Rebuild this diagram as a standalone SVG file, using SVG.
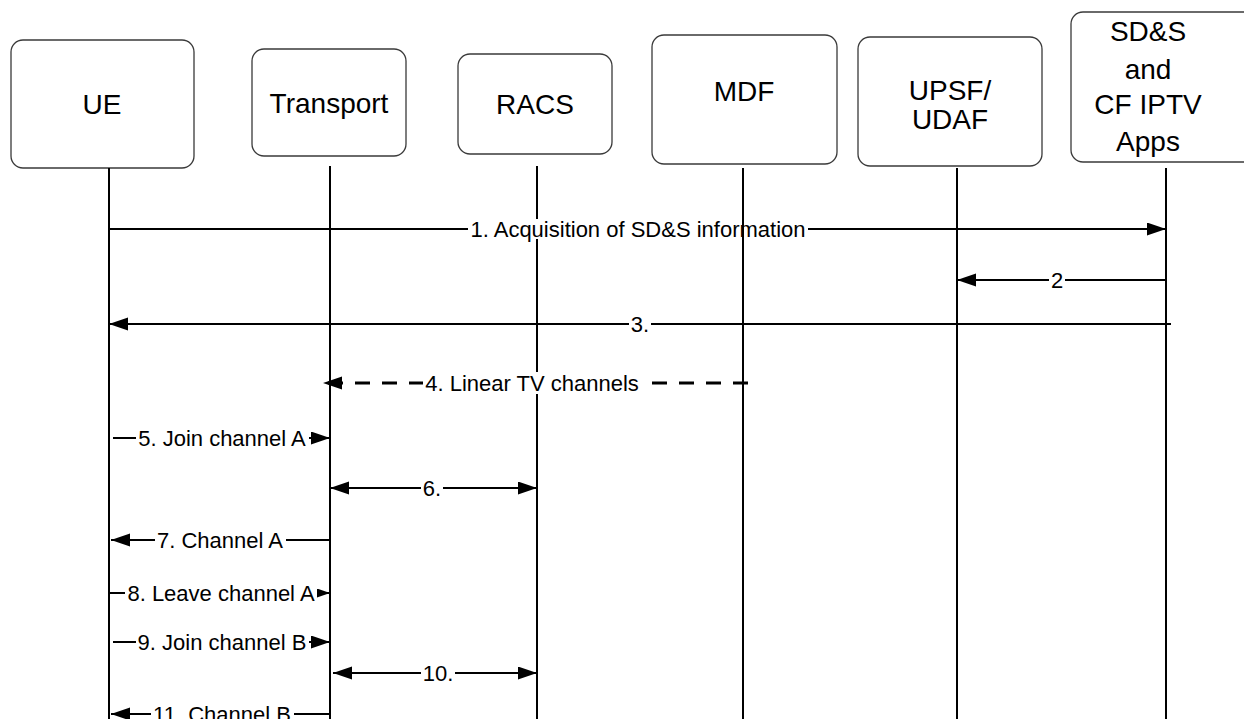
<svg xmlns="http://www.w3.org/2000/svg" width="1244" height="719" viewBox="0 0 1244 719">
<style>
.box{fill:#fff;stroke:#3a3a3a;stroke-width:1.3}
.bt{font-family:"Liberation Sans",Arial,sans-serif;font-size:28px;fill:#000;text-anchor:middle}
.life{stroke:#000;stroke-width:2;fill:none}
.msg{stroke:#000;stroke-width:2;fill:none;marker-end:url(#ah)}
.sm{marker-end:url(#ahs)}
.bi{marker-start:url(#ah)}
.dash{stroke-dasharray:15 12;stroke-width:3}
.lb{fill:#fff;stroke:none}
.lt{font-family:"Liberation Sans",Arial,sans-serif;font-size:22px;fill:#000;text-anchor:middle}
</style>
<defs>
<marker id="ah" markerUnits="userSpaceOnUse" markerWidth="20" markerHeight="14" refX="19" refY="6.5" orient="auto-start-reverse"><path d="M0,0 L19,6.5 L0,13 z" fill="#000"/></marker>
<marker id="ahs" markerUnits="userSpaceOnUse" markerWidth="14" markerHeight="10" refX="13" refY="4.5" orient="auto"><path d="M0,0 L13,4.5 L0,9 z" fill="#000"/></marker>
</defs>
<rect width="1244" height="719" fill="#fff"/>
<g id="ue">
<rect class="box" x="11" y="40" width="183" height="128" rx="12"/>
<text class="bt" x="102" y="114">UE</text>
<line class="life" x1="109" y1="168" x2="109" y2="719"/>
</g>
<g id="transport">
<rect class="box" x="252" y="49" width="154" height="107" rx="12"/>
<text class="bt" x="329" y="113">Transport</text>
<line class="life" x1="330" y1="166" x2="330" y2="719"/>
</g>
<g id="racs">
<rect class="box" x="458" y="54" width="154" height="100" rx="12"/>
<text class="bt" x="535" y="114">RACS</text>
<line class="life" x1="537" y1="166" x2="537" y2="719"/>
</g>
<g id="upsf">
<rect class="box" x="858" y="37" width="184" height="129" rx="12"/>
<text class="bt" x="950" y="100">UPSF/</text>
<text class="bt" x="950" y="129">UDAF</text>
<line class="life" x1="957" y1="168" x2="957" y2="719"/>
</g>
<g id="sds">
<rect class="box" x="1071" y="12" width="190" height="150" rx="12"/>
<text class="bt" x="1148" y="41">SD&amp;S</text>
<text class="bt" x="1148" y="79">and</text>
<text class="bt" x="1148" y="114">CF IPTV</text>
<text class="bt" x="1148" y="151">Apps</text>
<line class="life" x1="1166" y1="168" x2="1166" y2="719"/>
</g>
<g id="connectors">
<line class="msg" x1="109" y1="229" x2="1166" y2="229"/>
<rect class="lb" x="468" y="219" width="340" height="20"/>
<text class="lt" x="638" y="237">1. Acquisition of SD&amp;S information</text>

<line class="msg" x1="1166" y1="280" x2="957" y2="280"/>
<rect class="lb" x="1049" y="270" width="16" height="20"/>
<text class="lt" x="1057" y="288">2</text>

<line class="msg" x1="1171" y1="324" x2="109" y2="324"/>
<rect class="lb" x="629" y="314" width="22" height="20"/>
<text class="lt" x="640" y="332">3.</text>

<line class="msg dash" x1="748" y1="383" x2="323" y2="383"/>
<rect class="lb" x="423" y="372" width="218" height="22"/>
<text class="lt" x="532" y="391">4. Linear TV channels</text>

<line class="msg" x1="113" y1="438" x2="330" y2="438"/>
<rect class="lb" x="136" y="428" width="173" height="20"/>
<text class="lt" x="222" y="446">5. Join channel A</text>

<line class="msg bi" x1="330" y1="488" x2="537" y2="488"/>
<rect class="lb" x="421" y="478" width="22" height="20"/>
<text class="lt" x="432" y="496">6.</text>

<line class="msg" x1="330" y1="540" x2="111" y2="540"/>
<rect class="lb" x="155" y="530" width="131" height="20"/>
<text class="lt" x="220" y="548">7. Channel A</text>

<line class="msg sm" x1="109" y1="593" x2="330" y2="593"/>
<rect class="lb" x="125" y="583" width="192" height="20"/>
<text class="lt" x="221" y="601">8. Leave channel A</text>

<line class="msg" x1="113" y1="642" x2="330" y2="642"/>
<rect class="lb" x="136" y="632" width="173" height="20"/>
<text class="lt" x="222" y="650">9. Join channel B</text>

<line class="msg bi" x1="333" y1="673" x2="537" y2="673"/>
<rect class="lb" x="421" y="663" width="34" height="20"/>
<text class="lt" x="438" y="681">10.</text>

<line class="msg" x1="330" y1="714" x2="111" y2="714"/>
<rect class="lb" x="151" y="704" width="143" height="20"/>
<text class="lt" x="222" y="722">11. Channel B</text>
</g>
<g id="mdf">
<rect class="box" x="652" y="35" width="185" height="129" rx="12"/>
<text class="bt" x="744" y="101">MDF</text>
<line class="life" x1="743" y1="168" x2="743" y2="719"/>
</g>
</svg>
